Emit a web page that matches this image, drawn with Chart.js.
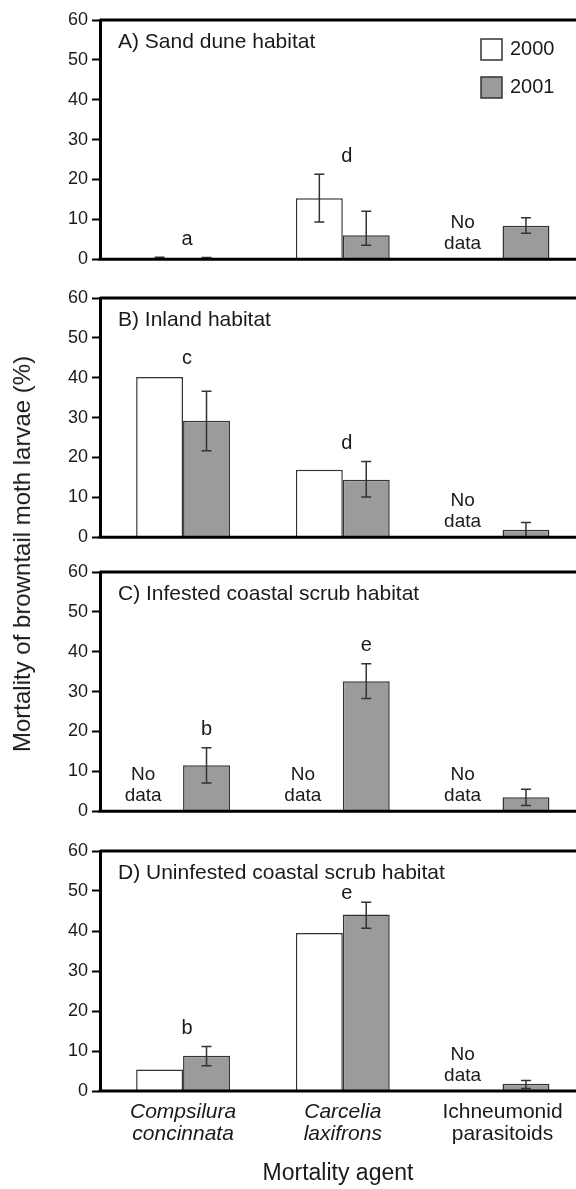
<!DOCTYPE html>
<html>
<head>
<meta charset="utf-8">
<script src="https://cdn.jsdelivr.net/npm/chart.js@4.4.1/dist/chart.umd.min.js"></script>
<style>
  body { margin: 0; background: #fff; width: 576px; height: 1189px; overflow: hidden; position: relative; font-family: "Liberation Sans", Arial, sans-serif; }
  canvas { position: absolute; left: 0; }
  #ytitle { position: absolute; left: 22px; top: 554px; transform: translate(-50%, -50%) rotate(-90deg); white-space: nowrap; font-size: 24px; color: #1a1a1a; }
</style>
</head>
<body>
<canvas id="cA" width="576" height="274" style="top:0px"></canvas>
<canvas id="cB" width="576" height="274" style="top:278px"></canvas>
<canvas id="cC" width="576" height="274" style="top:552px"></canvas>
<canvas id="cD" width="576" height="358" style="top:831px"></canvas>
<div id="ytitle">Mortality of browntail moth larvae (%)</div>
<script>
const agents = [['Compsilura', 'concinnata'], ['Carcelia', 'laxifrons'], ['Ichneumonid', 'parasitoids']]
const years = ['2000', '2001']
const panelTitles = ['A) Sand dune habitat', 'B) Inland habitat', 'C) Infested coastal scrub habitat', 'D) Uninfested coastal scrub habitat']
const noDataText = ['No', 'data']

// A) sand dune
const sand2000 = [0.3, 15.3, null]
const sand2001 = [0.2, 6.0, 8.4]
const sandLo2000 = [0.1, 9.3, null]
const sandHi2000 = [0.5, 21.3, null]
const sandLo2001 = [0.05, 3.5, 6.5]
const sandHi2001 = [0.4, 12.0, 10.4]
const sandLetters = ['a', 'd', '']

// B) inland
const inland2000 = [40.2, 16.9, null]
const inland2001 = [29.2, 14.4, 1.9]
const inlandLo2000 = [null, null, null]
const inlandHi2000 = [null, null, null]
const inlandLo2001 = [21.7, 10.1, 0]
const inlandHi2001 = [36.6, 19.0, 3.7]
const inlandLetters = ['c', 'd', '']

// C) infested coastal scrub
const infested2000 = [null, null, null]
const infested2001 = [11.5, 32.6, 3.5]
const infestedLo2000 = [null, null, null]
const infestedHi2000 = [null, null, null]
const infestedLo2001 = [7.1, 28.3, 1.4]
const infestedHi2001 = [15.9, 37.0, 5.5]
const infestedLetters = ['b', 'e', '']

// D) uninfested coastal scrub
const uninf2000 = [5.4, 39.5, null]
const uninf2001 = [8.8, 44.1, 1.8]
const uninfLo2000 = [null, null, null]
const uninfHi2000 = [null, null, null]
const uninfLo2001 = [6.3, 40.7, 0.6]
const uninfHi2001 = [11.1, 47.2, 2.6]
const uninfLetters = ['b', 'e', '']

const FONT = '"Liberation Sans", Arial, sans-serif'
const INK = '#1a1a1a'
const GREY = '#9b9b9b'

const panels = [
    {id: 'cA', title: panelTitles[0], v: [sand2000, sand2001], lo: [sandLo2000, sandLo2001], hi: [sandHi2000, sandHi2001], letters: sandLetters, legend: true},
    {id: 'cB', title: panelTitles[1], v: [inland2000, inland2001], lo: [inlandLo2000, inlandLo2001], hi: [inlandHi2000, inlandHi2001], letters: inlandLetters},
    {id: 'cC', title: panelTitles[2], v: [infested2000, infested2001], lo: [infestedLo2000, infestedLo2001], hi: [infestedHi2000, infestedHi2001], letters: infestedLetters},
    {id: 'cD', title: panelTitles[3], v: [uninf2000, uninf2001], lo: [uninfLo2000, uninfLo2001], hi: [uninfHi2000, uninfHi2001], letters: uninfLetters, axis: true}
]

function makeDeco(p) {
    return {
        id: 'deco',
        afterDatasetsDraw(chart) {
            const ctx = chart.ctx
            const a = chart.chartArea
            const xs = chart.scales.x
            const ys = chart.scales.y
            const unit = xs.getPixelForValue(1) - xs.getPixelForValue(0)
            ctx.save()

            // error bars
            ctx.strokeStyle = '#333'
            ctx.lineWidth = 1.5
            p.lo.forEach((lo, di) => {
                const meta = chart.getDatasetMeta(di)
                lo.forEach((l, i) => {
                    if (l == null) return
                    const bx = meta.data[i].x
                    const y1 = ys.getPixelForValue(l)
                    const y2 = ys.getPixelForValue(p.hi[di][i])
                    ctx.beginPath()
                    ctx.moveTo(bx, y1); ctx.lineTo(bx, y2)
                    ctx.moveTo(bx - 5, y1); ctx.lineTo(bx + 5, y1)
                    ctx.moveTo(bx - 5, y2); ctx.lineTo(bx + 5, y2)
                    ctx.stroke()
                })
            })

            // frame (top + bottom)
            ctx.strokeStyle = '#000'
            ctx.lineWidth = 3
            ctx.beginPath()
            ctx.moveTo(a.left, a.top); ctx.lineTo(a.right, a.top)
            ctx.moveTo(a.left - 1.5, a.bottom); ctx.lineTo(a.right, a.bottom)
            ctx.stroke()

            ctx.fillStyle = INK
            ctx.textBaseline = 'middle'

            // panel title
            ctx.textAlign = 'left'
            ctx.font = '21px ' + FONT
            ctx.fillText(p.title, a.left + 18, a.top + 22)

            // letters + no data
            ctx.textAlign = 'center'
            agents.forEach((ag, i) => {
                const gx = xs.getPixelForValue(i)
                if (p.letters[i]) {
                    const tops = [p.v[0][i], p.v[1][i], p.hi[0][i], p.hi[1][i]].filter(t => t != null)
                    // keep the letter under the panel title
                    const ty = Math.max(ys.getPixelForValue(Math.max(...tops)) - 18, a.top + 42)
                    const lx = p.v[0][i] == null ? chart.getDatasetMeta(1).data[i].x : gx + 4
                    ctx.font = '20px ' + FONT
                    ctx.fillText(p.letters[i], lx, ty)
                }
                if (p.v[0][i] == null) {
                    ctx.font = '19px ' + FONT
                    ctx.fillText(noDataText[0], gx - unit * 0.25, a.bottom - 36)
                    ctx.fillText(noDataText[1], gx - unit * 0.25, a.bottom - 15)
                }
            })

            // legend
            if (p.legend) {
                const fills = ['#fff', GREY]
                ctx.textAlign = 'left'
                ctx.font = '20px ' + FONT
                years.forEach((yr, k) => {
                    const by = a.top + 19 + k * 38
                    ctx.fillStyle = fills[k]
                    ctx.fillRect(a.right - 95, by, 21, 21)
                    ctx.strokeStyle = '#333'
                    ctx.lineWidth = 1.5
                    ctx.strokeRect(a.right - 95, by, 21, 21)
                    ctx.fillStyle = INK
                    ctx.fillText(yr, a.right - 66, by + 10)
                })
            }
            ctx.restore()
        }
    }
}

panels.forEach(p => {
    const xAxis = {
        type: 'linear',
        min: -0.52,
        max: 2.46,
        offset: false,
        display: !!p.axis,
        afterBuildTicks: s => { s.ticks = agents.map((_, i) => ({value: i})) },
        grid: {display: false, drawTicks: false, offset: false},
        border: {display: false}
    }
    if (p.axis) {
        xAxis.afterFit = s => { s.height = 98 }
        xAxis.ticks = {
            autoSkip: false,
            maxRotation: 0,
            padding: 10,
            color: INK,
            callback: (val, idx) => agents[idx],
            font: c => ({family: FONT, size: 21, style: c.index < 2 ? 'italic' : 'normal', lineHeight: 1.05})
        }
        xAxis.title = {display: true, text: 'Mortality agent', color: INK, font: {family: FONT, size: 23}, padding: {top: 0, bottom: 2}}
    }

    new Chart(document.getElementById(p.id), {
        type: 'bar',
        data: {
            datasets: years.map((yr, di) => ({
                label: yr,
                data: p.v[di].map((val, i) => ({x: i, y: val})),
                backgroundColor: di === 0 ? '#fff' : GREY,
                borderColor: '#333',
                borderWidth: 1.5,
                categoryPercentage: 0.5875,
                barPercentage: 1
            }))
        },
        options: {
            responsive: false,
            animation: false,
            layout: {padding: {top: 20, bottom: p.axis ? 0 : 14, left: 0, right: 0}},
            plugins: {legend: {display: false}, tooltip: {enabled: false}},
            scales: {
                x: xAxis,
                y: {
                    min: 0,
                    max: 60,
                    afterFit: s => { s.width = 100 },
                    ticks: {stepSize: 10, padding: 4, color: INK, font: {family: FONT, size: 18}},
                    grid: {drawOnChartArea: false, drawTicks: true, tickLength: 8, tickWidth: 2, color: '#000'},
                    border: {display: true, width: 3, color: '#000'}
                }
            }
        },
        plugins: [makeDeco(p)]
    })
})
</script>
</body>
</html>
